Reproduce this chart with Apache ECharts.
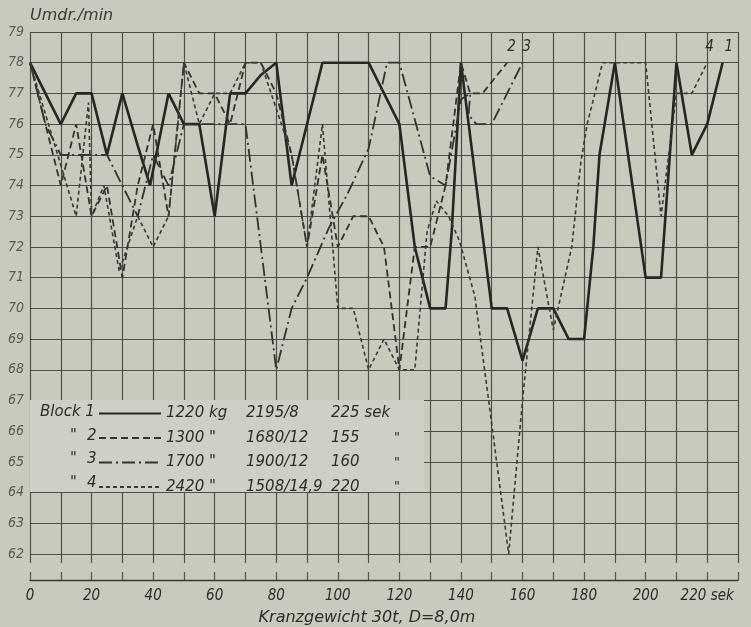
<!DOCTYPE html>
<html><head><meta charset="utf-8">
<script src="https://cdn.jsdelivr.net/npm/echarts@6/dist/echarts.min.js"></script>
<style>html,body{margin:0;padding:0;background:#c9c9be}#c{width:751px;height:627px}</style>
</head><body><div id="c"></div>
<script>
// ---- data (x = Zeit in sek, y = Umdr./min) ----
const block1X = [0,10,15,20,25,30,35,39,45,50,55,60,65,70,75,80,85,95,110,120,125,130,135,137,140,150,155,160,165,170,175,180,183,185,190,200,205,210,215,220,225];
const block1Y = [78,76,77,77,75,77,75.3,74,77,76,76,73,77,77,77.6,78,74,78,78,76,72,70,70,72.5,78,70,70,68.3,70,70,69,69,72,75,78,71,71,78,75,76,78];

const block2X = [0,10,15,20,25,30,35,40,45,50,55,60,65,70,75,80,85,90,95,100,105,110,115,120,125,130,135,140,143,147,155];
const block2Y = [78,74,76,73,74,71,74,76,73,78,77,77,76,78,78,77,75,72,75,72,73,73,72,68,72,72,74,78,77,77,78];

const block3X = [0,5,10,15,20,25,30,35,40,45,50,55,60,65,70,80,85,90,97,103,110,116,120,130,135,140,143,142.5,145,150,160];
const block3Y = [78,76,75,75,75,75,74,73,75,74,76,76,76,76,76,68,70,71,72.6,73.7,75.2,78,78,74.3,74,76.8,77,76.3,76,76,78];

const block4X = [0,15,19,20,24,29,35,40,45,50,55,60,65,70,75,85,90,95,100,105,110,115,120,125,129,132,136,139.5,144.5,149,155.5,160,165,170,176,179,181,186,200,205,210,215,220];
const block4Y = [78,73,76.7,73,74,71.2,73,72,73,78,76,77,77,78,78,75,72,76,70,70,68,69,68,68,72.5,73.5,73,72.2,70.4,67,62,67,72,69.3,72,74.8,76,78,78,73,77,77,78];

const yMin = 62, yMax = 79;
const xMin = 0, xMax = 230;
const xLabelStep = 20;
const seriesNames = ['Block 1','Block 2','Block 3','Block 4'];
const legendDitto = ['Block 1','"','"','"'];
const legendNum = ['', '2', '3', '4'];
const legendWeight = ['1220 kg','1300 "','1700 "','2420 "'];
const legendRatio = ['2195/8','1680/12','1900/12','1508/14,9'];
const legendTime = ['225 sek','155','160','220'];
const legendTimeMark = ['','"','"','"'];
const yTitle = 'Umdr./min';
const xTitle = 'Kranzgewicht 30t, D=8,0m';

function pairs(xs, ys){ return xs.map((x,i)=>[x, ys[i]]); }

const FONT = "'DejaVu Sans Condensed','Liberation Sans Narrow','DejaVu Sans',sans-serif";
const WFONT = "'DejaVu Sans','Liberation Sans',sans-serif";
const INK = '#2c2c29';
const GRID = '#4f4f4a';

const chart = echarts.init(document.getElementById('c'), null, {renderer:'canvas'});

const lineCommon = {type:'line', symbol:'none', showSymbol:false, xAxisIndex:0, yAxisIndex:0, z:3, silent:true, animation:false};

const option = {
  backgroundColor:'#c9c9be',
  animation:false,
  grid:[
    {left:30, right:13, top:32, height:522},
    {left:30, right:13, top:32, height:531},
    {left:30, right:13, top:575, height:10}
  ],
  xAxis:[
    {gridIndex:0, type:'value', min:xMin, max:xMax, interval:10, show:false},
    {gridIndex:1, type:'value', min:xMin, max:xMax, interval:10,
      axisLine:{show:false}, axisTick:{show:false}, axisLabel:{show:false},
      splitLine:{show:true, lineStyle:{color:GRID, width:1.2}}},
    {gridIndex:2, type:'value', min:xMin, max:xMax, interval:10, position:'bottom',
      axisLine:{show:true, lineStyle:{color:'#3a3a36', width:1.4}},
      axisTick:{show:true, inside:true, length:8, lineStyle:{color:'#55554f', width:1.2}},
      splitLine:{show:false},
      axisLabel:{margin:9, color:INK, fontFamily:FONT, fontStyle:'italic', fontSize:15,
        formatter:v => (v % xLabelStep === 0 && v <= 220) ? (v === 220 ? '220 sek' : String(v)) : ''},
      name:xTitle, nameLocation:'middle', nameGap:30,
      nameTextStyle:{color:INK, fontFamily:WFONT, fontStyle:'italic', fontSize:16, padding:[0,34,0,0]}}
  ],
  yAxis:[
    {gridIndex:0, type:'value', min:yMin, max:yMax, interval:1,
      axisLine:{show:false}, axisTick:{show:false},
      axisLabel:{margin:6, color:'#5a5a55', fontFamily:FONT, fontStyle:'italic', fontSize:14},
      splitLine:{show:true, lineStyle:{color:GRID, width:1.2}},
      name:yTitle, nameLocation:'end', nameGap:8,
      nameTextStyle:{color:'#3a3a36', fontFamily:WFONT, fontStyle:'italic', fontSize:16, align:'left', padding:[0,0,0,0]}},
    {gridIndex:1, type:'value', min:0, max:1, show:false},
    {gridIndex:2, type:'value', min:0, max:1, show:false}
  ],
  legend:{
    left:93, top:401, orient:'vertical', itemWidth:62, itemHeight:14, itemGap:9.5, z:6,
    data:seriesNames,
    selectedMode:false,
    itemStyle:{opacity:0},
    textStyle:{color:INK, fontFamily:WFONT, fontStyle:'italic', fontSize:15,
      rich:{
        w:{width:80, fontFamily:WFONT, fontStyle:'italic', fontSize:15, color:INK},
        r:{width:85, fontFamily:WFONT, fontStyle:'italic', fontSize:15, color:INK},
        t:{width:63, fontFamily:WFONT, fontStyle:'italic', fontSize:15, color:INK},
        d:{fontFamily:WFONT, fontStyle:'italic', fontSize:13, color:INK}
      }},
    formatter:name => {
      const i = seriesNames.indexOf(name);
      return '{w|'+legendWeight[i]+'}{r|'+legendRatio[i]+'}{t|'+legendTime[i]+'}{d|'+legendTimeMark[i]+'}';
    }
  },
  graphic:[
    {type:'rect', left:30, top:400, z:5, shape:{width:394, height:92}, style:{fill:'#cfcfc5'}},
    ...legendDitto.map((t,i)=>({type:'text', z:7, left: i===0 ? 40 : 70, top:405+i*23.5,
      style:{text:t, font:'italic 15px '+WFONT, fill:INK}})),
    ...legendNum.map((t,i)=>({type:'text', z:7, left:87, top:405+i*23.5,
      style:{text:t, font:'italic 15px '+WFONT, fill:INK}}))
  ],
  series:[
    Object.assign({}, lineCommon, {name:seriesNames[0], data:pairs(block1X,block1Y), lineStyle:{color:'#262623', width:2.6, type:'solid'}, itemStyle:{color:'#262623'},
      endLabel:{show:true, formatter:'1', color:INK, fontFamily:FONT, fontStyle:'italic', fontSize:15, offset:[-6,-16]}}),
    Object.assign({}, lineCommon, {name:seriesNames[1], data:pairs(block2X,block2Y), lineStyle:{color:'#33332f', width:1.8, type:[7,4]}, itemStyle:{color:'#33332f'},
      endLabel:{show:true, formatter:'2', color:INK, fontFamily:FONT, fontStyle:'italic', fontSize:15, offset:[-8,-16]}}),
    Object.assign({}, lineCommon, {name:seriesNames[2], data:pairs(block3X,block3Y), lineStyle:{color:'#33332f', width:1.8, type:[13,4,2,4]}, itemStyle:{color:'#33332f'},
      endLabel:{show:true, formatter:'3', color:INK, fontFamily:FONT, fontStyle:'italic', fontSize:15, offset:[-8,-16]}}),
    Object.assign({}, lineCommon, {name:seriesNames[3], data:pairs(block4X,block4Y), lineStyle:{color:'#3a3a36', width:1.6, type:[4,3]}, itemStyle:{color:'#3a3a36'},
      endLabel:{show:true, formatter:'4', color:INK, fontFamily:FONT, fontStyle:'italic', fontSize:15, offset:[-10,-16]}})
  ]
};
chart.setOption(option);
</script></body></html>
